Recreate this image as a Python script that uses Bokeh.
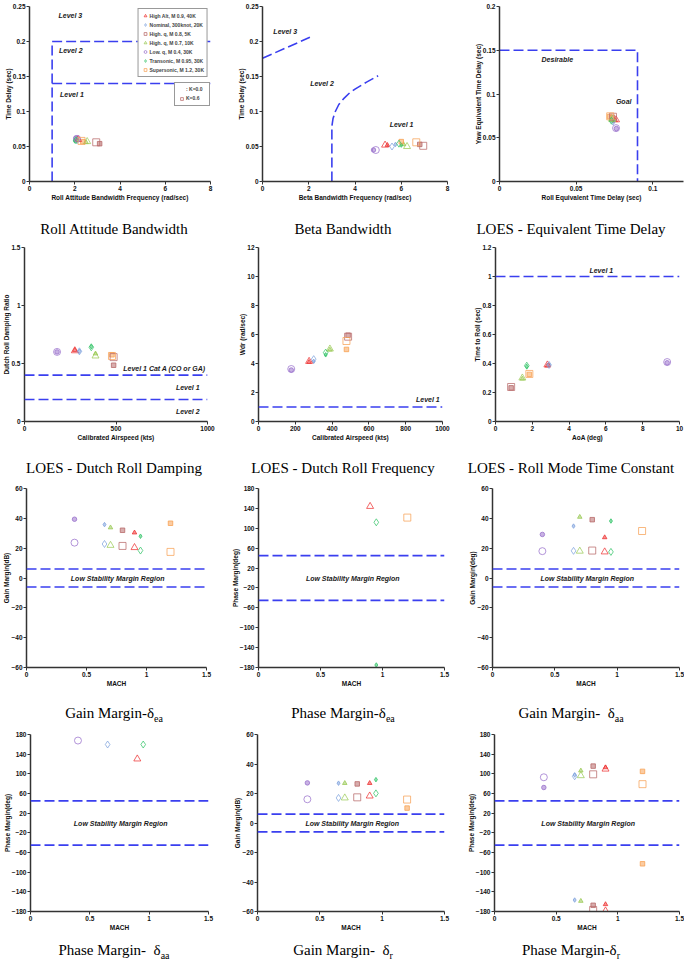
import math
from bokeh.plotting import figure
from bokeh.models import Range1d, FixedTicker, Label, Span, Legend, LegendItem, Div
from bokeh.layouts import row, column
from bokeh.embed import file_html
from bokeh.resources import INLINE

NaN = float("nan")

# ---------------- series definitions ----------------
SERIES = ["High Alt, M 0.9, 40K", "Nominal, 300knot, 20K", "High. q, M 0.8, 5K",
          "High. q, M 0.7, 10K", "Low. q, M 0.4, 30K", "Transonic, M 0.95, 30K",
          "Supersonic, M 1.2, 30K"]
MARKERS = ["triangle", "diamond", "square", "triangle", "circle", "diamond", "square"]
COLORS = ["#EE3535", "#7FA3DD", "#B86A6A", "#9CCB5A", "#9A72CC", "#35C46A", "#F7A255"]
MACH = [0.9, 0.65, 0.8, 0.7, 0.4, 0.95, 1.2]
KCAS = [275, 300, 487, 388, 178, 365, 478]
AOA = [2.82, 2.91, 0.85, 1.46, 9.33, 1.70, 1.84]

# 1 Roll attitude bandwidth
RAB_FREQ_K0 = [2.10, 2.05, 3.10, 2.50, 2.05, 2.00, 2.35]
RAB_DELAY_K0 = [0.061, 0.060, 0.054, 0.056, 0.062, 0.058, 0.057]
RAB_FREQ_K6 = [2.15, 2.10, 2.95, 2.55, 2.10, 2.05, 2.30]
RAB_DELAY_K6 = [0.060, 0.059, 0.056, 0.057, 0.061, 0.059, 0.058]
RAB_L2_X = [1, 1, 8]
RAB_L2_Y = [0, 0.2, 0.2]
RAB_L1_X = [1, 8]
RAB_L1_Y = [0.14, 0.14]

# 2 Beta bandwidth
BB_FREQ_K0 = [5.40, 5.75, 6.80, 6.10, 4.80, 6.00, 6.00]
BB_DELAY_K0 = [0.052, 0.053, 0.053, 0.053, 0.045, 0.052, 0.057]
BB_FREQ_K6 = [5.30, 5.60, 6.95, 6.25, 4.90, 5.90, 6.65]
BB_DELAY_K6 = [0.052, 0.050, 0.051, 0.050, 0.045, 0.054, 0.056]
BB_L3_X = [0, 2.05]
BB_L3_Y = [0.176, 0.206]
BB_L2_X = [3.0, 3.0, 3.05, 3.15, 3.3, 3.5, 3.75, 4.0, 4.5, 5.0]
BB_L2_Y = [0, 0.079, 0.090, 0.100, 0.110, 0.118, 0.126, 0.132, 0.142, 0.151]

# 3 LOES equivalent time delay
ETD_ROLL_K0 = [0.0755, 0.0745, 0.0735, 0.0730, 0.0762, 0.0728, 0.0718]
ETD_YAW_K0 = [0.0700, 0.0690, 0.0735, 0.0705, 0.0605, 0.0700, 0.0742]
ETD_ROLL_K6 = [0.0760, 0.0740, 0.0740, 0.0735, 0.0760, 0.0730, 0.0722]
ETD_YAW_K6 = [0.0705, 0.0685, 0.0740, 0.0710, 0.0610, 0.0695, 0.0745]
ETD_BOX_X = [0, 0.09, 0.09]
ETD_BOX_Y = [0.15, 0.15, 0]

# 4 Dutch roll damping
DR_DAMP_K0 = [0.615, 0.605, 0.485, 0.585, 0.600, 0.645, 0.575]
DR_DAMP_K6 = [0.610, 0.605, 0.555, 0.565, 0.600, 0.640, 0.565]
DR_DAMP_LIMITS = [0.4, 0.19]

# 5 Dutch roll frequency
DR_FREQ_K0 = [4.10, 4.15, 5.95, 4.95, 3.55, 4.60, 4.97]
DR_FREQ_K6 = [4.15, 4.30, 5.85, 5.00, 3.62, 4.75, 5.55]
DR_FREQ_LIMITS = [1.0]

# 6 Roll mode
TROLL_K0 = [0.385, 0.390, 0.232, 0.295, 0.405, 0.380, 0.325]
TROLL_K6 = [0.390, 0.390, 0.238, 0.300, 0.410, 0.385, 0.328]
TROLL_LIMITS = [1.0]

# 7-12 stability margins vs Mach
GM_EA_K0 = [30.4, 35.8, 32.0, 33.8, 39.4, 28.0, 36.7]
GM_EA_K6 = [20.4, 22.8, 21.5, 21.9, 23.7, 18.4, 17.5]
PM_EA_K0 = [NaN, NaN, NaN, NaN, NaN, -175.0, NaN]
PM_EA_K6 = [144.0, NaN, NaN, NaN, NaN, 112.0, 121.5]
GM_AA_K0 = [27.2, 34.8, 39.1, 40.9, 29.2, 38.2, NaN]
GM_AA_K6 = [17.5, 18.2, 18.4, 18.0, 18.0, 17.5, 31.5]
PM_AA_K0 = [NaN, NaN, NaN, NaN, NaN, NaN, NaN]
PM_AA_K6 = [130.3, 159.6, NaN, NaN, 167.7, 159.6, NaN]
GM_R_K0 = [27.0, 27.0, 26.5, 27.0, 27.2, 29.4, 10.1]
GM_R_K6 = [18.3, 17.0, 17.4, 17.0, 16.1, 20.1, 15.9]
PM_R_K0 = [113.0, 97.7, 115.7, 106.4, 72.2, NaN, 105.0]
PM_R_K6 = [109.7, 95.0, 99.0, 96.3, 93.0, NaN, 79.0]
PM_R2_K0 = [-165.4, -156.7, -167.4, -158.7, NaN, NaN, -83.0]
PM_R2_K6 = [-178.8, NaN, -176.8, NaN, NaN, NaN, NaN]
GM_LIMITS = [6, -6]
PM_LIMITS = [45, -45]

# ticks
T_FREQ = [0, 2, 4, 6, 8]
T_DELAY = [0, 0.05, 0.1, 0.15, 0.2, 0.25]
L_DELAY = ["0", "0.05", "0.1", "0.15", "0.2", "0.25"]
T_ETD = [0, 0.05, 0.1]
L_ETD = ["0", "0.05", "0.1"]
T_ETDY = [0, 0.05, 0.1, 0.15, 0.2]
L_ETDY = ["0", "0.05", "0.1", "0.15", "0.2"]
T_KCAS3 = [0, 500, 1000]
T_KCAS6 = [0, 200, 400, 600, 800, 1000]
T_DAMP = [0, 0.5, 1, 1.5]
L_DAMP = ["0", "0.5", "1", "1.5"]
T_WDR = [0, 2, 4, 6, 8, 10, 12]
T_AOA = [0, 2, 4, 6, 8, 10]
T_TROLL = [0, 0.2, 0.4, 0.6, 0.8, 1.0, 1.2]
L_TROLL = ["0", "0.2", "0.4", "0.6", "0.8", "1", "1.2"]
T_MACH = [0, 0.5, 1, 1.5]
L_MACH = ["0", "0.5", "1", "1.5"]
T_GM = [-60, -40, -20, 0, 20, 40, 60]
T_PM = [-180, -140, -100, -60, -20, 20, 60, 100, 140, 180]

SUB = '<sub style="font-size:10px">%s</sub>'
CAPTIONS = ["Roll Attitude Bandwidth", "Beta Bandwidth", "LOES - Equivalent Time Delay",
            "LOES - Dutch Roll Damping", "LOES - Dutch Roll Frequency", "LOES - Roll Mode Time Constant",
            "Gain Margin-δ" + SUB % "ea", "Phase Margin-δ" + SUB % "ea",
            "Gain Margin- &nbsp;δ" + SUB % "aa", "Phase Margin- &nbsp;δ" + SUB % "aa",
            "Gain Margin- &nbsp;δ" + SUB % "r", "Phase Margin-δ" + SUB % "r"]

DASH_COLOR = "#3A3FEF"
SANS = "Liberation Sans"
CELL_W = [228, 230, 226]


def make_fig(w, h, bl, br, bt, bb, xr, yr, xt, xl, yt, yl, xlab, ylab):
    p = figure(width=w, height=h, output_backend="svg", toolbar_location=None,
               x_range=Range1d(*xr), y_range=Range1d(*yr),
               min_border_left=bl, min_border_right=br, min_border_top=bt, min_border_bottom=bb)
    p.outline_line_color = None
    p.xgrid.visible = False
    p.ygrid.visible = False
    for ax, ticks, labels, lab in ((p.xaxis[0], xt, xl, xlab), (p.yaxis[0], yt, yl, ylab)):
        ax.ticker = FixedTicker(ticks=ticks, minor_ticks=[])
        if labels is not None:
            ax.major_label_overrides = {t: s for t, s in zip(ticks, labels)}
        ax.axis_label = lab
        ax.axis_label_text_font = SANS
        ax.axis_label_text_font_style = "bold"
        ax.axis_label_text_font_size = "6.5px"
        ax.axis_label_text_color = "#111111"
        ax.axis_label_standoff = 0
        ax.major_label_text_font = SANS
        ax.major_label_text_font_style = "bold"
        ax.major_label_text_font_size = "6.5px"
        ax.major_label_text_color = "#111111"
        ax.major_label_standoff = 1
        ax.axis_line_color = "#333333"
        ax.axis_line_width = 1.5
        ax.major_tick_line_color = "#333333"
        ax.major_tick_out = 3
        ax.major_tick_in = 0
        ax.minor_tick_line_color = None
    p.yaxis[0].axis_label_standoff = -2
    return p


def add_points(p, xs, ys, open_marker):
    rends = []
    for i in range(7):
        x = xs[i]
        y = ys[i]
        if math.isnan(y):
            rends.append(None)
            continue
        if open_marker:
            r = p.scatter(x=[x], y=[y], marker=MARKERS[i], size=7, fill_color=None,
                          line_color=COLORS[i], line_alpha=0.75, line_width=1)
        else:
            r = p.scatter(x=[x], y=[y], marker=MARKERS[i], size=4.5, fill_color=COLORS[i],
                          fill_alpha=0.55, line_color=COLORS[i], line_alpha=0.8, line_width=1)
        rends.append(r)
    return rends


def dashed(p, xs, ys):
    p.line(xs, ys, line_color=DASH_COLOR, line_width=1.6, line_dash="10 4")


def hspans(p, levels):
    for v in levels:
        p.add_layout(Span(location=v, dimension="width", line_color=DASH_COLOR,
                          line_width=1.6, line_dash="10 4"))


def note(p, x, y, text, align="left", size="7px"):
    p.add_layout(Label(x=x, y=y, text=text, text_font=SANS, text_font_style="bold italic",
                       text_font_size=size, text_color="#1a1a1a", text_align=align,
                       text_baseline="middle"))


def caption(idx, w, h, pad):
    html = ('<div style="width:%dpx;text-align:center;font-family:\'Liberation Serif\',serif;'
            'font-size:15px;line-height:16px;padding-top:%dpx;color:#000;">%s</div>'
            % (w, pad, CAPTIONS[idx]))
    return Div(text=html, width=w, height=h, margin=(0, 0, 0, 0))


def style_legend(lg):
    lg.label_text_font = SANS
    lg.label_text_font_style = "bold"
    lg.label_text_font_size = "5px"
    lg.label_height = 7
    lg.glyph_height = 7
    lg.glyph_width = 7
    lg.label_standoff = 1
    lg.spacing = 2
    lg.padding = 3
    lg.margin = 2
    lg.border_line_color = "#333333"
    lg.border_line_width = 0.8
    lg.background_fill_alpha = 1


# ---------------- row 1 ----------------
p1 = make_fig(CELL_W[0], 211, 29, 18, 6, 30, (0, 8), (0, 0.25), T_FREQ, None, T_DELAY, L_DELAY,
              "Roll Attitude Bandwidth Frequency (rad/sec)", "Time Delay (sec)")
dashed(p1, RAB_L2_X, RAB_L2_Y)
dashed(p1, RAB_L1_X, RAB_L1_Y)
note(p1, 1.28, 0.237, "Level 3")
note(p1, 1.3, 0.187, "Level 2")
note(p1, 1.35, 0.124, "Level 1")
add_points(p1, RAB_FREQ_K0, RAB_DELAY_K0, False)
leg_r = add_points(p1, RAB_FREQ_K6, RAB_DELAY_K6, True)
items = [LegendItem(label=SERIES[i], renderers=[leg_r[i]]) for i in range(7)]
k0_dummy = p1.scatter(x=[], y=[], marker="square", size=6, fill_color="#B0B0B0",
                      line_color="#8a8a8a", line_width=1)
leg1 = Legend(items=items, location="top_right")
style_legend(leg1)
leg2 = Legend(items=[LegendItem(label=": K=0.0", renderers=[k0_dummy]),
                     LegendItem(label="K=0.6", renderers=[leg_r[2]])], location="center_right")
style_legend(leg2)
leg2.margin = 0
p1.add_layout(leg1)
p1.add_layout(leg2)

p2 = make_fig(CELL_W[1], 211, 34, 11, 6, 30, (0, 8), (0, 0.25), T_FREQ, None, T_DELAY, L_DELAY,
              "Beta Bandwidth Frequency (rad/sec)", "Time Delay (sec)")
dashed(p2, BB_L3_X, BB_L3_Y)
dashed(p2, BB_L2_X, BB_L2_Y)
note(p2, 0.47, 0.214, "Level 3")
note(p2, 2.06, 0.14, "Level 2")
note(p2, 5.5, 0.081, "Level 1")
add_points(p2, BB_FREQ_K0, BB_DELAY_K0, False)
add_points(p2, BB_FREQ_K6, BB_DELAY_K6, True)

p3 = make_fig(CELL_W[2], 211, 41, 1, 6, 30, (0, 0.12), (0, 0.2), T_ETD, L_ETD, T_ETDY, L_ETDY,
              "Roll Equivalent Time Delay (sec)", "Yaw Equivalent Time Delay (sec)")
dashed(p3, ETD_BOX_X, ETD_BOX_Y)
note(p3, 0.0377, 0.140, "Desirable", align="center")
note(p3, 0.081, 0.091, "Goal", align="center")
add_points(p3, ETD_ROLL_K0, ETD_YAW_K0, False)
add_points(p3, ETD_ROLL_K6, ETD_YAW_K6, True)

# ---------------- row 2 ----------------
p4 = make_fig(CELL_W[0], 202, 20, 21, 4, 24, (0, 1000), (0, 1.5), T_KCAS3, None, T_DAMP, L_DAMP,
              "Calibrated Airspeed (kts)", "Dutch Roll Damping Ratio")
hspans(p4, DR_DAMP_LIMITS)
note(p4, 990, 0.453, "Level 1 Cat A (CO or GA)", align="right")
note(p4, 957, 0.295, "Level 1", align="right")
note(p4, 957, 0.089, "Level 2", align="right")
add_points(p4, KCAS, DR_DAMP_K0, False)
add_points(p4, KCAS, DR_DAMP_K6, True)

p5 = make_fig(CELL_W[1], 202, 30, 16, 4, 24, (0, 1000), (0, 12), T_KCAS6, None, T_WDR, None,
              "Calibrated Airspeed (kts)", "Wdr (rad/sec)")
hspans(p5, DR_FREQ_LIMITS)
note(p5, 985, 1.5, "Level 1", align="right")
add_points(p5, KCAS, DR_FREQ_K0, False)
add_points(p5, KCAS, DR_FREQ_K6, True)

p6 = make_fig(CELL_W[2], 202, 37, 5, 4, 24, (0, 10), (0, 1.2), T_AOA, None, T_TROLL, L_TROLL,
              "AoA (deg)", "Time to Roll (sec)")
hspans(p6, TROLL_LIMITS)
note(p6, 5.75, 1.043, "Level 1", align="center")
add_points(p6, AOA, TROLL_K0, False)
add_points(p6, AOA, TROLL_K6, True)


# ---------------- rows 3-4 ----------------
def margin_fig(w, h, bl, br, bt, bb, gain, k0, k6, extra=None):
    if gain:
        p = make_fig(w, h, bl, br, bt, bb, (0, 1.5), (-60, 60), T_MACH, L_MACH, T_GM, None,
                     "MACH", gain)
        hspans(p, GM_LIMITS)
    else:
        p = make_fig(w, h, bl, br, bt, bb, (0, 1.5), (-180, 180), T_MACH, L_MACH, T_PM, None,
                     "MACH", "Phase Margin(deg)")
        hspans(p, PM_LIMITS)
    note(p, 0.76, 0, "Low Stability Margin Region", align="center")
    add_points(p, MACH, k0, False)
    add_points(p, MACH, k6, True)
    if extra:
        add_points(p, MACH, extra[0], False)
        add_points(p, MACH, extra[1], True)
    return p


p7 = margin_fig(CELL_W[0], 206, 23, 22, 5, 22, "Gain Margin(dB)", GM_EA_K0, GM_EA_K6)
p8 = margin_fig(CELL_W[1], 206, 30, 14, 5, 22, None, PM_EA_K0, PM_EA_K6)
p9 = margin_fig(CELL_W[2], 206, 34, 5, 5, 22, "Gain Margin(deg)", GM_AA_K0, GM_AA_K6)
p10 = margin_fig(CELL_W[0], 205, 26, 20, 6, 22, None, PM_AA_K0, PM_AA_K6)
p11 = margin_fig(CELL_W[1], 205, 29, 14, 6, 22, "Gain Margin(dB)", GM_R_K0, GM_R_K6)
p12 = margin_fig(CELL_W[2], 205, 36, 5, 6, 22, None, PM_R_K0, PM_R_K6, extra=(PM_R2_K0, PM_R2_K6))

figs = [[p1, p2, p3], [p4, p5, p6], [p7, p8, p9], [p10, p11, p12]]
cap_h = [32, 38, 39, 31]
cap_pad = [10, 15, 16, 9]
rows = []
for r in range(4):
    cells = []
    for c in range(3):
        cells.append(column(figs[r][c], caption(r * 3 + c, CELL_W[c], cap_h[r], cap_pad[r]), spacing=0))
    rows.append(row(cells, spacing=0))
layout = column(rows, spacing=0)

open("out.html", "w").write(file_html(layout, INLINE))
